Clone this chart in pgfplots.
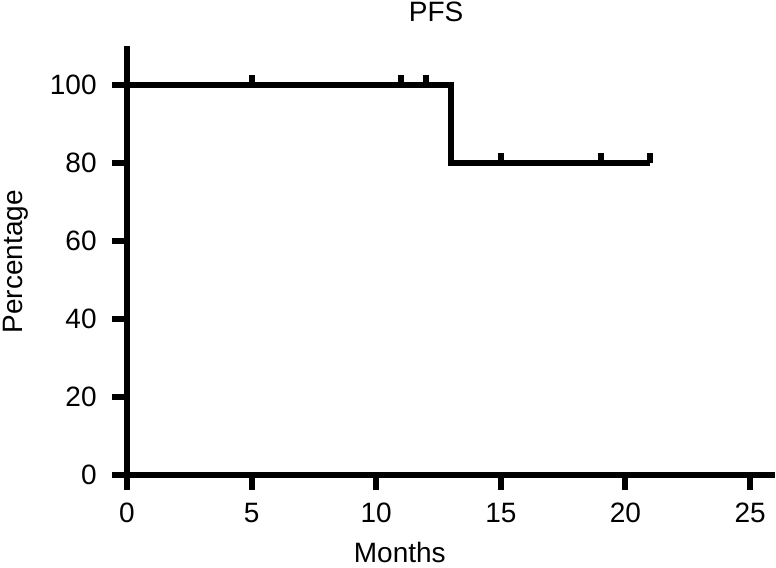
\documentclass[border=0pt]{standalone}
\usepackage{fontspec}
\setmainfont{Liberation Sans}
\usepackage{pgfplots}
\pgfplotsset{compat=1.18}

\begin{document}
\begin{tikzpicture}
\begin{axis}[
    name=ax,
    scale only axis,
    width=324bp,
    height=214.5bp,
    xmin=0, xmax=26,
    ymin=0, ymax=110,
    axis lines*=left,
    axis line style={line width=3bp, black},
    xtick={0,5,...,25},
    ytick={0,20,...,100},
    tick align=outside,
    major tick length=7.5bp,
    tick style={line width=3bp, black},
    /pgf/number format/assume math mode=true,
    ticklabel style={font=\fontsize{14bp}{16bp}\selectfont, inner sep=0pt},
    xticklabel style={anchor=north, yshift=-6.5bp},
    yticklabel style={anchor=east, xshift=-7.5bp},
    label style={font=\fontsize{14bp}{16bp}\selectfont},
    xlabel={Months},
    xlabel style={at={(axis description cs:0.421,-0.203)}, anchor=base},
    ylabel={Percentage},
    ylabel style={at={(axis description cs:-0.161,0.497)}, anchor=base},
    clip=false,
]

% survival curve
\addplot[const plot, line width=3bp, black, line join=miter] coordinates {
    (0,100) (13,100) (13,80) (21,80)
};

% censored observations
\addplot[only marks, mark=|, mark size=2.4bp,
    mark options={line width=3bp, yshift=2.4bp, black}] coordinates {
    (5,100) (11,100) (12,100) (15,80) (19,80) (21,80)
};

\node[anchor=base, font=\fontsize{14bp}{16bp}\selectfont, yshift=12bp]
    at (rel axis cs:0.477,1) {PFS};

\end{axis}
\pgfresetboundingbox
\path[use as bounding box]
    ([xshift=-63.5bp,yshift=-46.5bp]ax.south west)
    rectangle ([xshift=0.5bp,yshift=23bp]ax.north east);
\end{tikzpicture}
\end{document}
